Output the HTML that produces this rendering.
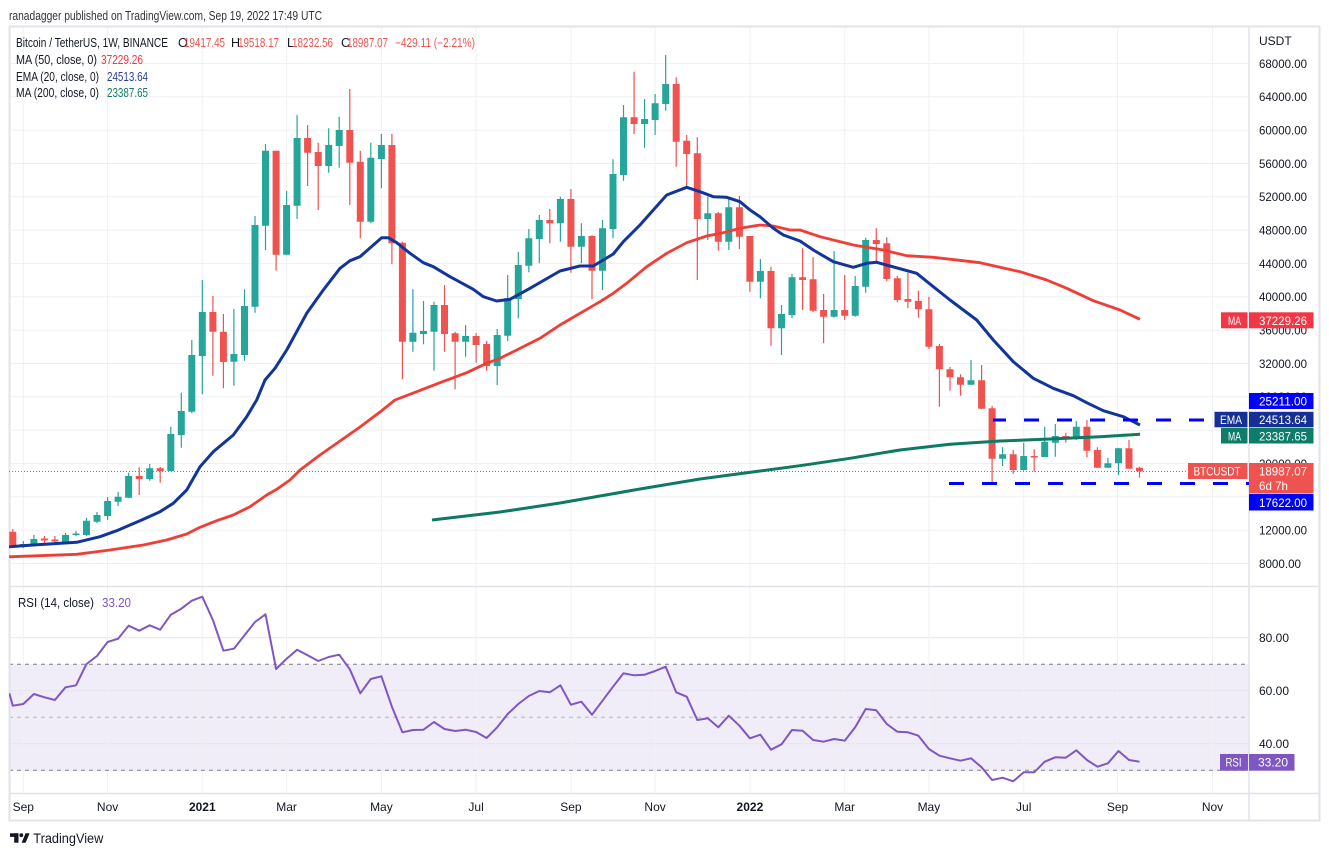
<!DOCTYPE html>
<html><head><meta charset="utf-8"><style>
html,body{margin:0;padding:0;background:#fff;width:1329px;height:856px;overflow:hidden}
svg{display:block;font-family:"Liberation Sans",sans-serif}
</style></head><body>
<svg width="1329" height="856" viewBox="0 0 1329 856" xmlns="http://www.w3.org/2000/svg">
<defs>
<clipPath id="pp"><rect x="9" y="27" width="1240" height="559"/></clipPath>
<clipPath id="rp"><rect x="9" y="587" width="1240" height="206"/></clipPath>
</defs>
<rect width="1329" height="856" fill="#fff"/>
<text x="9" y="20" font-size="13" fill="#333" textLength="313" lengthAdjust="spacingAndGlyphs">ranadagger published on TradingView.com, Sep 19, 2022 17:49 UTC</text>

<!-- RSI band -->
<rect x="9" y="664.3" width="1240" height="106" fill="#f0ecf8"/>

<!-- grid -->
<g stroke="#eff1f5" stroke-width="1">
<path d="M9 63.5H1249M9 96.8H1249M9 130.2H1249M9 163.5H1249M9 196.8H1249M9 230.2H1249M9 263.5H1249M9 296.8H1249M9 330.2H1249M9 363.5H1249M9 396.8H1249M9 430.2H1249M9 463.5H1249M9 496.8H1249M9 530.2H1249M9 563.5H1249"/>
<path d="M9 637.8H1249M9 690.8H1249M9 743.8H1249" stroke="#e6e3ee"/>
<path d="M23.3 27V793M107.6 27V793M202.3 27V793M286.6 27V793M381.4 27V793M476.1 27V793M570.9 27V793M655.1 27V793M749.9 27V793M844.7 27V793M928.9 27V793M1023.7 27V793M1117.5 27V793M1212.5 27V793"/>
</g>

<!-- RSI dashed levels -->
<path d="M9 664.3H1249M9 770.3H1249" stroke="#7d7f89" stroke-width="1" stroke-dasharray="4 4"/>
<path d="M9 717.3H1249" stroke="#b3b5be" stroke-width="1" stroke-dasharray="4 4"/>

<!-- frame -->
<g stroke="#e0e3eb" fill="none">
<rect x="9.5" y="26.5" width="1310" height="794" stroke-width="2"/>
<path d="M1249 26V820M9 586.5H1319M9 793.5H1319" stroke-width="1.5"/>
</g>

<!-- price dotted line -->
<path d="M9 471.5H1188" stroke="#ef5350" stroke-width="1" stroke-dasharray="1 2"/>

<g clip-path="url(#pp)">
<!-- green candles -->
<path fill="none" stroke="#26a69a" stroke-width="1.2" d="M23.3 541V548 M33.9 535V546 M65.5 533V544 M76 531V536 M86.5 518V536 M97 512V523 M107.6 497V520 M118.1 492V506 M128.6 472.7V498 M149.7 464V480.7 M170.8 426.7V471 M181.3 392.7V447.7 M191.8 340V413.3 M202.3 280V394.3 M233.9 309V385.7 M244.5 289.3V360.7 M255 216V312.7 M265.5 144V250 M286.6 191V254.7 M297.1 115V219 M328.7 128.3V172.7 M339.2 116.7V167.7 M370.8 142.7V223.3 M381.4 134V188.3 M412.9 289.3V351.7 M423.5 301V344.3 M434 301.7V370.7 M465.6 325V356.7 M497.2 329V385 M507.7 275V341 M518.3 251.7V318.3 M528.8 229V272.3 M539.3 215V263.3 M560.4 196.7V241.7 M581.4 223.3V263.3 M602.5 220V290 M613 159.3V238.3 M623.5 105V180.7 M644.6 99V147.7 M655.1 94V135 M665.7 55V110.7 M707.8 196.7V240 M728.8 196.7V250 M760.4 259V298.3 M781.5 305V355 M792 274V318 M834.1 251V317.7 M855.2 276V316.7 M865.7 237.7V292.7 M971 360V385 M1002.6 447.3V466 M1023.7 442.7V470.7 M1044.7 426.7V457 M1055.3 424V456.7 M1076.3 421V440 M1107.9 457.7V468 M1118.5 447.7V475"/>
<path fill="#26a69a" d="M19.8 544h7V545.3h-7Z M30.4 539h7V545h-7Z M62 535h7V543h-7Z M72.5 533.5h7V535h-7Z M83 520.7h7V535h-7Z M93.5 515h7V521.7h-7Z M104.1 501h7V516h-7Z M114.6 496.7h7V501.7h-7Z M125.1 476h7V497.7h-7Z M146.2 468.3h7V479h-7Z M167.3 434h7V471h-7Z M177.8 411h7V435h-7Z M188.3 355h7V411.7h-7Z M198.8 312h7V356h-7Z M230.4 354h7V361.7h-7Z M241 306h7V355h-7Z M251.5 225h7V306.7h-7Z M262 150.7h7V225.7h-7Z M283.1 205h7V254.7h-7Z M293.6 138h7V205.7h-7Z M325.2 145h7V166h-7Z M335.7 130h7V146h-7Z M367.3 157.7h7V221.7h-7Z M377.9 145h7V159h-7Z M409.4 332.7h7V341.7h-7Z M420 331h7V334h-7Z M430.5 305h7V331.7h-7Z M462.1 336h7V341.7h-7Z M493.7 335h7V366h-7Z M504.2 298.3h7V335.7h-7Z M514.8 265h7V299h-7Z M525.3 238.3h7V265.7h-7Z M535.8 220h7V239h-7Z M556.9 199h7V223.3h-7Z M577.9 236h7V246.7h-7Z M599 228.3h7V270.7h-7Z M609.5 174h7V229h-7Z M620 117.3h7V175h-7Z M641.1 119h7V124h-7Z M651.6 103.3h7V120h-7Z M662.2 84h7V104h-7Z M704.3 213.3h7V219h-7Z M725.3 207.3h7V241.7h-7Z M756.9 271h7V281.7h-7Z M778 314h7V328.3h-7Z M788.5 277.3h7V315h-7Z M830.6 310h7V316.7h-7Z M851.7 286h7V315.7h-7Z M862.2 240h7V286.7h-7Z M967.5 380.3h7V384.7h-7Z M999.1 454.3h7V458.7h-7Z M1020.2 456h7V470h-7Z M1041.2 441.7h7V457h-7Z M1051.8 436h7V442.7h-7Z M1072.8 426.7h7V438.3h-7Z M1104.4 463.3h7V467.7h-7Z M1115 448.3h7V463.3h-7Z"/>
<!-- red candles -->
<path fill="none" stroke="#ef5350" stroke-width="1.2" d="M12.8 529V548 M44.4 536V545 M54.9 536V544 M139.2 467.3V495 M160.2 467V482.7 M212.9 296V375.7 M223.4 314V388.3 M276.1 150.7V270.7 M307.6 125V186 M318.2 142.7V210 M349.8 89V205 M360.3 150.7V238.3 M391.9 134V264.3 M402.4 241.7V379.3 M444.5 285V351.7 M455.1 331.7V389.3 M476.1 333V362.7 M486.6 341V370.7 M549.8 209V243.3 M570.9 189V272.7 M592 235V299.3 M634.1 71.7V134 M676.2 77.3V166.7 M686.7 135V188.3 M697.3 137.3V280 M718.3 212V250.7 M739.4 196V249 M749.9 236V291.7 M771 266.7V345.7 M802.6 248.3V310 M813.1 257.3V312.3 M823.6 294V343.3 M844.7 275V320 M876.3 228.3V261.7 M886.8 237.3V281 M897.3 276V302.3 M907.9 272.7V308.3 M918.4 290.7V317.7 M928.9 296.7V349 M939.4 344V406.7 M950 367V390.7 M960.5 374.3V395.7 M981.6 365V409 M992.1 406V483.3 M1013.2 450V474 M1034.2 449.3V471.7 M1065.8 432.7V442.7 M1086.9 420V457.3 M1097.4 447.3V468 M1129 440V468.7 M1139.5 466.8V477.7"/>
<path fill="#ef5350" d="M9.3 531.7h7V545h-7Z M40.9 538.5h7V540.5h-7Z M51.4 539.5h7V541.5h-7Z M135.7 476h7V479h-7Z M156.7 468.3h7V471h-7Z M209.4 312h7V331.7h-7Z M219.9 331.7h7V362h-7Z M272.6 150.7h7V254.7h-7Z M304.1 138h7V152.7h-7Z M314.7 152h7V166h-7Z M346.3 130h7V162.7h-7Z M356.8 161.7h7V221.7h-7Z M388.4 145h7V243.3h-7Z M398.9 242.7h7V341.7h-7Z M441 305h7V334h-7Z M451.6 333.3h7V341.7h-7Z M472.6 336h7V345h-7Z M483.1 344h7V366h-7Z M546.3 220h7V223.3h-7Z M567.4 199h7V246.7h-7Z M588.5 236h7V270.7h-7Z M630.6 117.3h7V124h-7Z M672.7 84h7V141.7h-7Z M683.2 140.7h7V154h-7Z M693.8 153.3h7V219h-7Z M714.8 213.3h7V241.7h-7Z M735.9 207.3h7V236.7h-7Z M746.4 236h7V281.7h-7Z M767.5 271h7V328.3h-7Z M799.1 277.3h7V280h-7Z M809.6 279.3h7V310.7h-7Z M820.1 310h7V316.7h-7Z M841.2 310h7V315.7h-7Z M872.8 240h7V244h-7Z M883.3 243.3h7V279h-7Z M893.8 278.3h7V300h-7Z M904.4 299h7V301.7h-7Z M914.9 301h7V309.3h-7Z M925.4 309.3h7V346.7h-7Z M935.9 346h7V369.3h-7Z M946.5 369.3h7V377.3h-7Z M957 377.3h7V384.7h-7Z M978.1 380.3h7V408.7h-7Z M988.6 408.3h7V458.7h-7Z M1009.7 454.3h7V470h-7Z M1030.7 456h7V457.5h-7Z M1062.3 436h7V438.3h-7Z M1083.4 426.7h7V450.7h-7Z M1093.9 450h7V467.7h-7Z M1125.5 448.3h7V468.7h-7Z M1136 467.7h7V471.3h-7Z"/>

<!-- MA 50 -->
<polyline fill="none" stroke="#f03e36" stroke-width="2.8" stroke-linejoin="round" points="9,556.8 76.7,554.3 110,550 143.3,545 166.7,540 186.7,534 200,527.3 216.7,520.7 233.3,515 250,506.7 266.7,495 276.7,489.3 290,480 300,470 320,455 340,441 360,427 380,412 395,400 416.7,391.7 440,382.7 466.7,372.7 486.7,363.3 500,358.3 516.7,350 540,338.3 560,325 580,313.3 600,301.7 613.3,293.3 626.7,283.3 646.7,266.7 666.7,253.3 686.7,242.7 706.7,236 723.3,232.7 740,228.3 760,225 773.3,226 790,230 800,230 820,236.7 853.3,245 883.3,250 906.7,255.7 933.3,257.3 980,262.7 1020,271.7 1046.7,280 1066.7,288.3 1093.3,300.7 1120,310 1140,319.3"/>
<!-- MA 200 -->
<polyline fill="none" stroke="#0e7a63" stroke-width="3" stroke-linejoin="round" points="432,520 500,512 560,503 600,496 640,489 700,479 760,471 800,465.7 850,458.3 900,450 950,444.3 1000,441 1050,439 1100,436.7 1140,434.3"/>
<!-- EMA 20 -->
<polyline fill="none" stroke="#12359c" stroke-width="3" stroke-linejoin="round" points="9,546.8 33.3,545 76.7,542.3 100,536.7 116.7,530.7 140,520.7 160,511.7 173.3,503.3 186.7,490 200,466.7 213.3,451.7 233.3,435 246.7,416.7 256.7,400 265,380 275,368.3 286.7,350 306.7,313.3 323.3,290 340,268.3 350,260.7 360,256.7 381.7,237.7 388.3,237.7 396.7,242.7 410,253.3 423.3,262.7 433.3,266.7 450,276.7 473.3,289.3 483.3,296.7 496.7,301 510,299.3 530,288.3 560,271 580,266 593.3,266 613.3,254 623.3,241.7 640,225 653.3,210 666.7,195 686.7,187.3 700,191.7 713.3,196.7 726.7,197.3 740,201.7 750,210 760,216.7 773.3,228.3 783.3,235 800,241 813.3,250 833.3,261.7 853.3,267.3 866.7,263.3 876.7,262.3 890,266 916.7,273.3 933.3,286.7 950,300 976.7,320 993.3,340 1013.3,361.7 1033.3,378.3 1053.3,388.3 1073.3,395.7 1086.7,402.7 1103.3,410.7 1123.3,416.7 1140,425"/>
<!-- horizontal dashed levels -->
<path d="M993 420H1249" stroke="#0000ff" stroke-width="3" stroke-dasharray="13 18 15 18 15 18 15 18 15 18 15 18 15 18 15 18"/>
<path d="M949 483.5H1249" stroke="#0000ff" stroke-width="3" stroke-dasharray="15 18"/>
</g>

<!-- RSI line -->
<g clip-path="url(#rp)">
<polyline fill="none" stroke="#7e57c2" stroke-width="2" stroke-linejoin="round" points="9.3,693.3 12.8,705.7 23.3,704 33.9,694 44.4,697.3 54.9,700 65.5,687.3 76,685.3 86.5,664 97,656 107.6,642 118.1,638.7 128.6,625.7 139.2,630.7 149.7,625.3 160.2,629.7 170.8,614.7 181.3,608.7 191.8,600.7 202.3,596.7 212.9,620 223.4,650.7 233.9,648.7 244.5,635.3 255,622 265.5,614.3 276.1,669 286.6,658.7 297.1,649.7 307.6,655.3 318.2,661 328.7,657 339.2,654.7 349.8,669.3 360.3,693.3 370.8,679 381.4,676.3 391.9,706.7 402.4,732.3 412.9,730 423.5,729.7 434,722 444.5,729 455.1,731 465.6,729.7 476.1,732 486.6,738 497.2,727.3 507.7,714 518.3,704 528.8,696 539.3,691 549.8,692.3 560.4,685.3 570.9,704.7 581.4,701.7 592,714.7 602.5,700.7 613,686.7 623.5,673.3 634.1,675.3 644.6,674.7 655.1,671 665.7,666.7 676.2,692.3 686.7,696.7 697.3,720 707.8,718.3 718.3,727.3 728.8,715.7 739.4,725.7 749.9,738.3 760.4,734.7 771,749.7 781.5,744.3 792,730 802.6,730.7 813.1,740 823.6,741.7 834.1,739 844.7,740.7 855.2,727.3 865.7,709 876.3,710.3 886.8,724 897.3,731.7 907.9,732.3 918.4,735.7 928.9,749 939.4,755.7 950,758.3 960.5,760.7 971,758.3 981.6,767.3 992.1,780 1002.6,777.7 1013.2,781.3 1023.7,772.3 1034.2,772.3 1044.7,761.7 1055.3,757.3 1065.8,757.7 1076.3,750.3 1086.9,760 1097.4,766.7 1107.9,763.3 1118.5,751 1129,760 1139.5,761.7"/>
</g>

<!-- legend -->
<g font-size="12.5" fill="#131722" lengthAdjust="spacingAndGlyphs">
<text x="16" y="47" textLength="152" lengthAdjust="spacingAndGlyphs">Bitcoin / TetherUS, 1W, BINANCE</text>
<text x="178" y="47">O</text><text x="184" y="47" fill="#ef5350" textLength="41" lengthAdjust="spacingAndGlyphs">19417.45</text>
<text x="231" y="47">H</text><text x="238" y="47" fill="#ef5350" textLength="41" lengthAdjust="spacingAndGlyphs">19518.17</text>
<text x="287" y="47">L</text><text x="292" y="47" fill="#ef5350" textLength="41" lengthAdjust="spacingAndGlyphs">18232.56</text>
<text x="341" y="47">C</text><text x="347" y="47" fill="#ef5350" textLength="41" lengthAdjust="spacingAndGlyphs">18987.07</text>
<text x="395" y="47" fill="#ef5350" textLength="80" lengthAdjust="spacingAndGlyphs">−429.11 (−2.21%)</text>
<text x="16" y="64" textLength="81" lengthAdjust="spacingAndGlyphs">MA (50, close, 0)</text><text x="101" y="64" fill="#f23645" textLength="42" lengthAdjust="spacingAndGlyphs">37229.26</text>
<text x="16" y="81" textLength="83" lengthAdjust="spacingAndGlyphs">EMA (20, close, 0)</text><text x="107" y="81" fill="#2a3f9c" textLength="41" lengthAdjust="spacingAndGlyphs">24513.64</text>
<text x="16" y="97" textLength="83" lengthAdjust="spacingAndGlyphs">MA (200, close, 0)</text><text x="107" y="97" fill="#0f7b66" textLength="41" lengthAdjust="spacingAndGlyphs">23387.65</text>
<text x="18" y="607" textLength="76" lengthAdjust="spacingAndGlyphs">RSI (14, close)</text><text x="102" y="607" fill="#7e57c2" textLength="29" lengthAdjust="spacingAndGlyphs">33.20</text>
</g>

<!-- price axis labels -->
<g font-size="12" fill="#131722">
<text x="1259" y="45">USDT</text>
<text x="1259" y="67.8" textLength="48" lengthAdjust="spacingAndGlyphs">68000.00</text>
<text x="1259" y="101.1" textLength="48" lengthAdjust="spacingAndGlyphs">64000.00</text>
<text x="1259" y="134.5" textLength="48" lengthAdjust="spacingAndGlyphs">60000.00</text>
<text x="1259" y="167.8" textLength="48" lengthAdjust="spacingAndGlyphs">56000.00</text>
<text x="1259" y="201.1" textLength="48" lengthAdjust="spacingAndGlyphs">52000.00</text>
<text x="1259" y="234.5" textLength="48" lengthAdjust="spacingAndGlyphs">48000.00</text>
<text x="1259" y="267.8" textLength="48" lengthAdjust="spacingAndGlyphs">44000.00</text>
<text x="1259" y="301.1" textLength="48" lengthAdjust="spacingAndGlyphs">40000.00</text>
<text x="1259" y="334.5" textLength="48" lengthAdjust="spacingAndGlyphs">36000.00</text>
<text x="1259" y="367.8" textLength="48" lengthAdjust="spacingAndGlyphs">32000.00</text>
<text x="1259" y="401.1" textLength="48" lengthAdjust="spacingAndGlyphs">28000.00</text>
<text x="1259" y="467.8" textLength="48" lengthAdjust="spacingAndGlyphs">20000.00</text>
<text x="1259" y="534.5" textLength="48" lengthAdjust="spacingAndGlyphs">12000.00</text>
<text x="1259" y="567.8" textLength="42" lengthAdjust="spacingAndGlyphs">8000.00</text>
<text x="1259" y="642" textLength="30" lengthAdjust="spacingAndGlyphs">80.00</text>
<text x="1259" y="695" textLength="30" lengthAdjust="spacingAndGlyphs">60.00</text>
<text x="1259" y="748" textLength="30" lengthAdjust="spacingAndGlyphs">40.00</text>
</g>

<!-- axis label boxes -->
<g font-size="12" fill="#fff">
<rect x="1221" y="312.3" width="26.5" height="16" fill="#f23645"/><rect x="1249" y="312.3" width="64.5" height="16" fill="#f23645"/>
<text x="1228" y="324.8" textLength="13" lengthAdjust="spacingAndGlyphs">MA</text><text x="1259" y="324.8" textLength="48" lengthAdjust="spacingAndGlyphs">37229.26</text>

<rect x="1249" y="393" width="64.5" height="16" fill="#0000ff"/>
<text x="1259" y="405.5" textLength="48" lengthAdjust="spacingAndGlyphs">25211.00</text>

<rect x="1214.5" y="411.8" width="33" height="15.5" fill="#162f96"/><rect x="1249" y="411.8" width="64.5" height="15.5" fill="#162f96"/>
<text x="1220" y="424" textLength="22" lengthAdjust="spacingAndGlyphs">EMA</text><text x="1259" y="424" textLength="48" lengthAdjust="spacingAndGlyphs">24513.64</text>

<rect x="1221" y="428" width="26.5" height="15.5" fill="#0d7d67"/><rect x="1249" y="428" width="64.5" height="15.5" fill="#0d7d67"/>
<text x="1228" y="440.3" textLength="13" lengthAdjust="spacingAndGlyphs">MA</text><text x="1259" y="440.3" textLength="48" lengthAdjust="spacingAndGlyphs">23387.65</text>

<rect x="1188" y="463" width="59.5" height="16" fill="#ef5350"/><rect x="1249" y="463" width="64.5" height="30.5" fill="#ef5350"/>
<text x="1193.5" y="475.5" textLength="47" lengthAdjust="spacingAndGlyphs">BTCUSDT</text>
<text x="1259" y="475.5" textLength="48" lengthAdjust="spacingAndGlyphs">18987.07</text>
<text x="1259" y="490" textLength="29" lengthAdjust="spacingAndGlyphs">6d 7h</text>

<rect x="1249" y="494" width="64.5" height="16.5" fill="#0000ff"/>
<text x="1259" y="506.8" textLength="48" lengthAdjust="spacingAndGlyphs">17622.00</text>

<rect x="1220" y="754" width="28" height="16.7" fill="#7e57c2"/><rect x="1249" y="754" width="45.5" height="16.7" fill="#7e57c2"/>
<text x="1225.5" y="766.5" textLength="16" lengthAdjust="spacingAndGlyphs">RSI</text><text x="1258" y="766.5" textLength="30" lengthAdjust="spacingAndGlyphs">33.20</text>
</g>

<!-- time axis -->
<g font-size="12" fill="#131722" text-anchor="middle">
<text x="23.3" y="811">Sep</text>
<text x="107.6" y="811">Nov</text>
<text x="202.3" y="811" font-weight="bold">2021</text>
<text x="286.6" y="811">Mar</text>
<text x="381.4" y="811">May</text>
<text x="476.1" y="811">Jul</text>
<text x="570.9" y="811">Sep</text>
<text x="655.1" y="811">Nov</text>
<text x="749.9" y="811" font-weight="bold">2022</text>
<text x="844.7" y="811">Mar</text>
<text x="928.9" y="811">May</text>
<text x="1023.7" y="811">Jul</text>
<text x="1117.5" y="811">Sep</text>
<text x="1212.5" y="811">Nov</text>
</g>

<!-- TradingView logo -->
<g fill="#131722">
<rect x="10" y="833.3" width="8.5" height="3.6"/>
<rect x="14.2" y="833.3" width="4.3" height="9.4"/>
<circle cx="21.3" cy="835.2" r="1.9"/>
<polygon points="21.6,842.7 25.6,833.3 29.6,833.3 25.6,842.7"/>
<text x="33.3" y="843" font-size="13.5" textLength="70" lengthAdjust="spacingAndGlyphs">TradingView</text>
</g>
</svg>
</body></html>
